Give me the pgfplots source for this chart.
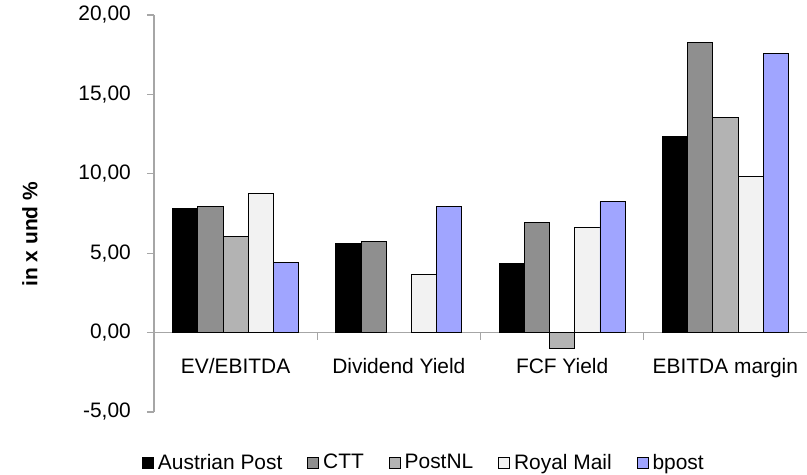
\documentclass[border=0pt]{standalone}
\usepackage{pgfplots}
\pgfplotsset{compat=1.18}
\usepackage{fontspec}
\setmainfont{Liberation Sans}
\definecolor{axgray}{HTML}{A6A6A6}
\definecolor{cAP}{HTML}{000000}
\definecolor{cCTT}{HTML}{8F8F8F}
\definecolor{cPNL}{HTML}{B3B3B3}
\definecolor{cRM}{HTML}{F2F2F2}
\definecolor{cBP}{HTML}{A0A5FF}
\begin{document}
\fontsize{21}{25}\selectfont
\begin{tikzpicture}
\begin{axis}[
  at={(154bp,63bp)}, anchor=south west,
  width=653bp, height=397bp, scale only axis,
  xmin=-0.5, xmax=3.5, ymin=-5, ymax=20,
  axis y line*=left, axis x line*=middle,
  hide obscured x ticks=false, hide obscured y ticks=false,
  axis line style={axgray, line width=1.2bp},
  ytick={-5,0,5,10,15,20},
  tick align=outside,
  major tick length=7bp,
  tick style={axgray, line width=1.2bp},
  xtick={0.5,1.5,2.5}, xticklabels={,,},
  extra x ticks={0,1,2,3},
  extra x tick labels={EV/EBITDA, Dividend Yield, FCF Yield, EBITDA margin},
  extra x tick style={major tick length=0pt, tick style={draw=none}},
  xticklabel style={anchor=north, inner sep=0pt, yshift=-26bp},
  yticklabel style={anchor=east, inner sep=0pt, xshift=-16bp},
  /pgf/number format/.cd, use comma, fixed, fixed zerofill, precision=2, assume math mode=true,
  /pgfplots/.cd,
  ylabel={\textbf{in x und \%}},
  ylabel style={at={(axis description cs:-0.19,0.448)}, anchor=center},
  ybar=0pt, bar width=25.2bp,
  every axis plot/.append style={draw=black, line width=0.8bp},
  legend columns=5,
  legend style={at={(axis description cs:-0.0184,-0.1285)}, anchor=west, draw=none, fill=none, inner sep=0pt,
    nodes={inner sep=0pt},
    /tikz/every even column/.append style={column sep=25bp},
    /tikz/every odd column/.append style={column sep=4bp}},
  legend cell align=left,
  legend image code/.code={\draw[#1, line width=0.8bp] (0bp,-5.5bp) rectangle (11bp,5.5bp);},
]
\addplot[fill=cAP] coordinates {(0,7.82) (1,5.61) (2,4.33) (3,12.34)};
\addplot[fill=cCTT] coordinates {(0,7.96) (1,5.74) (2,6.95) (3,18.27)};
\addplot[fill=cPNL] coordinates {(0,6.03) (2,-0.99) (3,13.54)};
\addplot[fill=cRM] coordinates {(0,8.76) (1,3.66) (2,6.62) (3,9.86)};
\addplot[fill=cBP] coordinates {(0,4.43) (1,7.92) (2,8.24) (3,17.57)};
\legend{Austrian Post, CTT, PostNL, Royal Mail, bpost}
\end{axis}
\pgfresetboundingbox
\useasboundingbox (0,0) rectangle (807bp,475bp);
\end{tikzpicture}
\end{document}
